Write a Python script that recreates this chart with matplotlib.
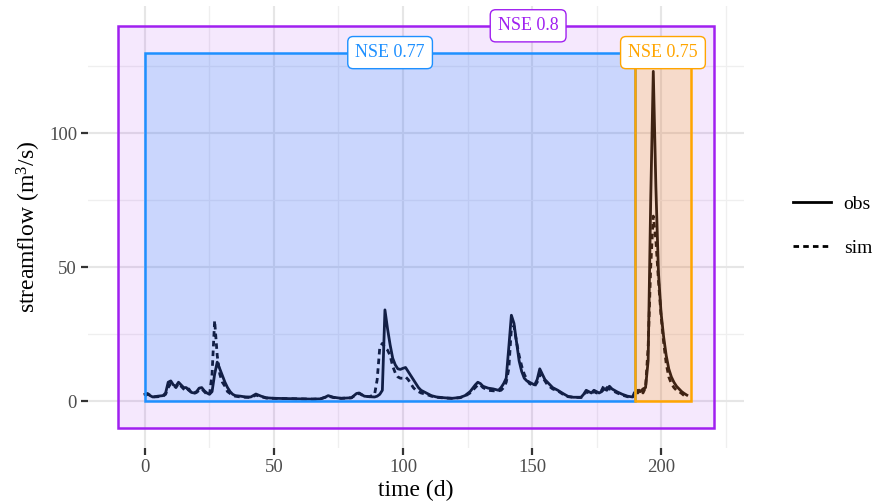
import matplotlib
matplotlib.use("Agg")
import matplotlib.pyplot as plt
from matplotlib.patches import Rectangle
from matplotlib.lines import Line2D

plt.rcParams['font.family'] = ['Liberation Serif', 'DejaVu Serif']
plt.rcParams['mathtext.default'] = 'regular'

days = [0, 1, 2, 3, 5, 7, 8, 9, 10, 11, 12, 13, 14, 15, 16, 17, 18, 19, 20, 21,
        22, 23, 24, 25, 26, 27, 28, 29, 30, 31, 32, 33, 34, 35, 37, 39, 41, 43, 45, 47,
        50, 55, 60, 65, 68, 70, 71, 73, 76, 80, 82, 83, 85, 87, 89, 90, 91, 92, 93, 94,
        95, 96, 97, 98, 99, 100, 101, 102, 103, 104, 105, 106, 107, 109, 111, 113, 116, 119, 122, 124,
        126, 128, 129, 130, 131, 133, 135, 137, 138, 139, 140, 141, 142, 143, 144, 145, 146, 147, 148, 149,
        150, 151, 152, 153, 154, 155, 156, 158, 160, 162, 164, 166, 169, 170, 171, 172, 173, 174, 175, 176,
        177, 178, 179, 180, 181, 183, 185, 187, 189, 190, 191, 192, 193, 194, 195, 196, 197, 198, 199, 200,
        201, 202, 203, 204, 205, 206, 207, 208, 209, 210]

obs = [2.5, 2.8, 2.0, 1.5, 1.8, 2.0, 3.0, 7.0, 7.5, 6.0, 5.5, 7.0, 6.0, 5.0, 5.0, 4.0, 3.2, 3.0, 3.5, 4.8,
       5.0, 3.8, 3.0, 2.5, 3.5, 10, 14.5, 12, 9.5, 7.0, 5.0, 3.5, 2.5, 2.0, 1.8, 1.5, 1.5, 2.6, 1.8, 1.2,
       1.0, 0.9, 0.8, 0.7, 0.8, 1.5, 2.0, 1.4, 1.0, 1.2, 2.8, 3.0, 1.8, 1.6, 1.5, 1.8, 2.5, 4.0, 34, 27,
       21, 16, 13.5, 12, 11.8, 12.2, 12.5, 11, 9.5, 8, 6.5, 5, 4, 3, 2, 1.5, 1.2, 1.0, 1.3, 2.0,
       3.5, 6.0, 7.0, 6.5, 5.5, 4.8, 4.5, 4.0, 5.0, 6.5, 8.5, 20, 32, 29, 22, 15, 11, 8.5, 7.5, 7,
       6.5, 6, 8, 12, 10, 8, 7, 5, 4, 2.8, 1.7, 1.4, 1.4, 2.5, 4.0, 3.5, 3.0, 4.0, 3.5, 3.0,
       3.5, 4.5, 4.0, 5.5, 4.5, 3.4, 2.5, 1.8, 1.5, 3.0, 4.0, 3.5, 4.5, 5.0, 15, 75, 123, 80, 48, 33,
       24, 17, 12, 9, 7, 5.5, 4.5, 3.5, 2.8, 2.2]

sim = [2.0, 2.5, 2.2, 1.5, 1.6, 1.8, 2.5, 5, 6.5, 6, 5, 6.5, 5.5, 4.5, 3.5, 4.5, 3, 2.8, 3.2, 4,
       4.5, 3.5, 2.5, 2.2, 10, 30, 17, 10, 7, 5.5, 3.5, 2.8, 2, 1.8, 1.5, 1.4, 1.3, 2.2, 1.6, 1.1,
       1.0, 0.9, 0.8, 0.7, 0.8, 1.4, 1.8, 1.3, 1.0, 1.2, 2.5, 2.8, 1.8, 1.6, 2.5, 8, 20, 21.5, 20, 19,
       17, 13, 10.5, 9, 8.5, 8.5, 9, 8, 6.5, 5, 4, 3.5, 3, 2.5, 1.8, 1.4, 1.1, 1.0, 1.2, 1.8,
       3, 5, 6, 6, 5, 4, 3.8, 3.8, 4, 5, 7, 12, 27, 28, 22, 17, 13, 10, 8, 6.5,
       6, 5.5, 7, 10, 9, 7.5, 6, 4.5, 3.8, 2.5, 1.6, 1.4, 1.3, 2, 3.5, 3, 2.8, 3.5, 3, 3,
       4, 6, 5, 4.5, 4, 3, 2.2, 1.6, 1.4, 4, 3, 4.5, 3, 5, 20, 50, 69, 60, 45, 32,
       22, 14, 9, 6.5, 5, 4, 3.5, 2.8, 2, 1.5]

# evaluation windows: (xmin, xmax, ymin, ymax, colour, fill alpha, label, label x, label y)
windows = [
    (-10.5, 220.5, -10, 140, '#A020F0', 0.10, 'NSE 0.8', 148.5, 140),
    (0, 190, 0, 130, '#1E90FF', 0.20, 'NSE 0.77', 95, 130),
    (190, 211.5, 0, 130, '#FFA500', 0.20, 'NSE 0.75', 200.75, 130),
]

fig = plt.figure(figsize=(8.73, 5.04), dpi=100)
W, H = 873, 504
ax = fig.add_axes([88.2 / W, 1 - 447.9 / H, (743.6 - 88.2) / W, (447.9 - 5.7) / H])

for s in ax.spines.values():
    s.set_visible(False)
ax.set_xticks([0, 50, 100, 150, 200])
ax.set_yticks([0, 50, 100])
ax.set_xticks([25, 75, 125, 175, 225], minor=True)
ax.set_yticks([25, 75, 125], minor=True)
ax.grid(True, which='major', color='#E6E6E6', linewidth=1.5, zorder=0)
ax.grid(True, which='minor', color='#EFEFEF', linewidth=0.9, zorder=0)
ax.tick_params(which='major', length=5, width=1.6, color='#333333', labelcolor='#4D4D4D',
               labelsize=13.5, pad=3)
ax.tick_params(which='minor', length=0)
ax.set_axisbelow(True)

ax.plot(days, obs, color='black', linewidth=2.0, linestyle='-', zorder=2)
ax.plot(days, sim, color='black', linewidth=2.0, linestyle=(0, (2, 1.5)), zorder=2)

for x0, x1, y0, y1, col, a, lab, lx, ly in windows:
    ax.add_patch(Rectangle((x0, y0), x1 - x0, y1 - y0, facecolor=col, alpha=a,
                           edgecolor='none', zorder=3))
for x0, x1, y0, y1, col, a, lab, lx, ly in windows:
    ax.add_patch(Rectangle((x0, y0), x1 - x0, y1 - y0, facecolor='none',
                           edgecolor=col, linewidth=1.8, zorder=4))
for x0, x1, y0, y1, col, a, lab, lx, ly in windows:
    ax.text(lx, ly, lab, color=col, fontsize=13, ha='center', va='center', zorder=6,
            bbox=dict(boxstyle='round,pad=0.42,rounding_size=0.3', facecolor='white',
                      edgecolor=col, linewidth=1.0))

ax.set_xlim(-22, 232)
ax.set_ylim(-17.5, 147.5)

ax.set_xlabel('time (d)', fontsize=17, labelpad=3)
ax.set_ylabel('streamflow (m$^3$/s)', fontsize=17, labelpad=4)

handles = [Line2D([], [], color='black', linewidth=2.0, linestyle='-'),
           Line2D([], [], color='black', linewidth=2.0, linestyle=(0, (2, 1.5)))]
fig.legend(handles, ['obs', 'sim'], loc='center left', bbox_to_anchor=(775 / W, 1 - 226 / H),
           frameon=False, fontsize=14, handlelength=1.96, labelspacing=1.35, handletextpad=0.67)

fig.savefig('out.png', dpi=100)
